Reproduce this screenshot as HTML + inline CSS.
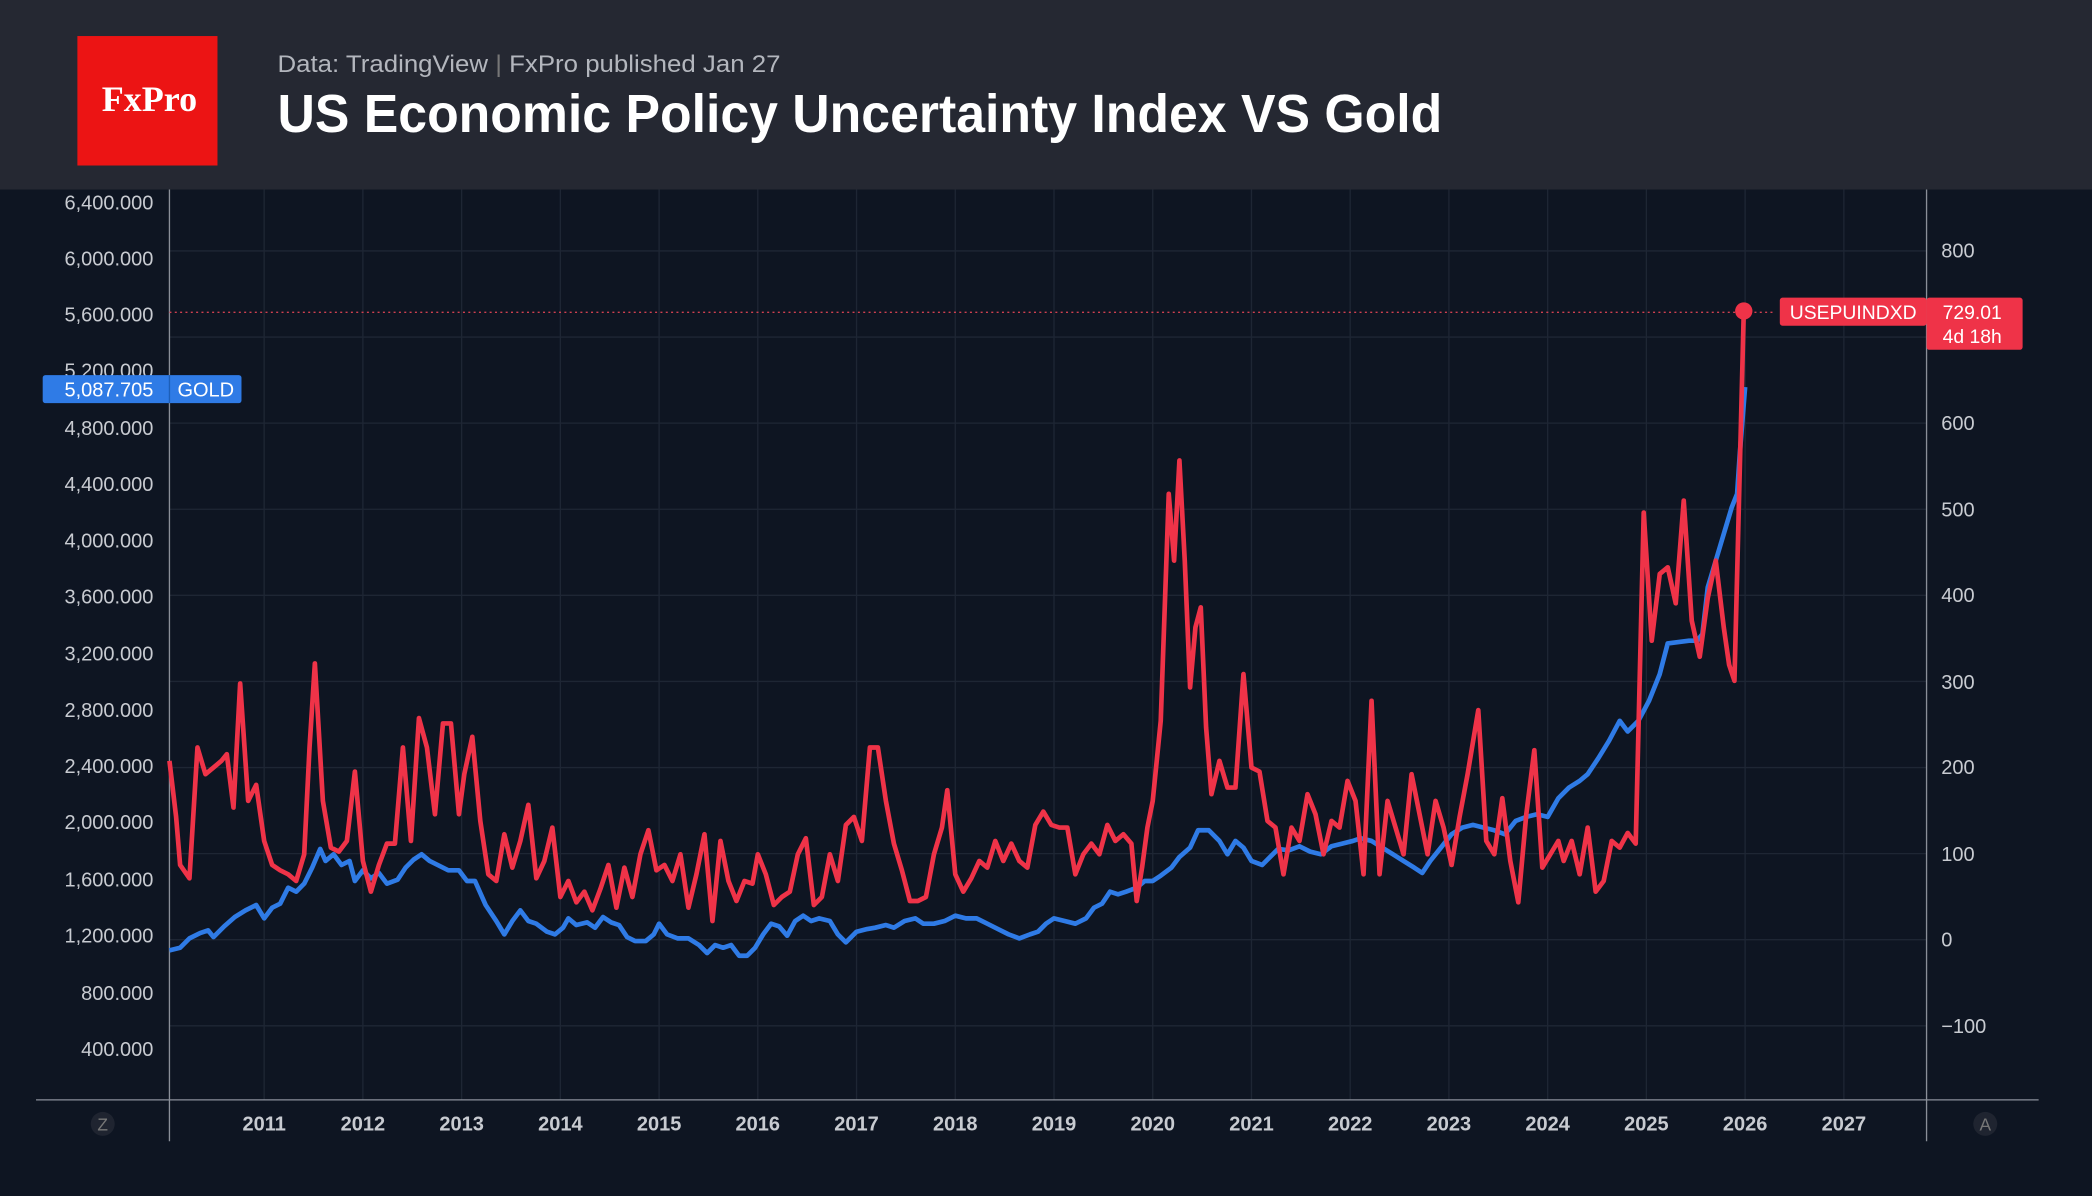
<!DOCTYPE html>
<html><head><meta charset="utf-8"><style>
html,body{margin:0;padding:0;background:#0e1522;}
svg{display:block}
text{font-family:"Liberation Sans",sans-serif}
</style></head><body>
<svg width="2092" height="1196" viewBox="0 0 1568 896" preserveAspectRatio="none" xmlns="http://www.w3.org/2000/svg">
<rect width="1568" height="896" fill="#0e1522"/>
<rect width="1568" height="142" fill="#252832"/>
<rect x="58" y="27" width="105" height="97" fill="#ec1414"/>
<text x="112" y="83" text-anchor="middle" style="font-family:'Liberation Serif',serif" font-weight="bold" font-size="27" fill="#fff">FxPro</text>
<text x="208" y="54" font-size="18" fill="#b3b6bd" textLength="377" lengthAdjust="spacingAndGlyphs">Data: TradingView <tspan fill="#777">|</tspan> FxPro published Jan 27</text>
<text x="208" y="99" font-size="40" font-weight="bold" fill="#fff" textLength="873" lengthAdjust="spacingAndGlyphs">US Economic Policy Uncertainty Index VS Gold</text>
<g stroke="#1e2634" stroke-width="1">
<line x1="127" y1="188" x2="1444" y2="188"/><line x1="127" y1="252.5" x2="1444" y2="252.5"/><line x1="127" y1="317" x2="1444" y2="317"/><line x1="127" y1="381.5" x2="1444" y2="381.5"/><line x1="127" y1="446" x2="1444" y2="446"/><line x1="127" y1="510.5" x2="1444" y2="510.5"/><line x1="127" y1="575" x2="1444" y2="575"/><line x1="127" y1="639.5" x2="1444" y2="639.5"/><line x1="127" y1="704" x2="1444" y2="704"/><line x1="127" y1="768.5" x2="1444" y2="768.5"/>
<line x1="198" y1="142" x2="198" y2="824"/><line x1="272" y1="142" x2="272" y2="824"/><line x1="346" y1="142" x2="346" y2="824"/><line x1="420" y1="142" x2="420" y2="824"/><line x1="494" y1="142" x2="494" y2="824"/><line x1="568" y1="142" x2="568" y2="824"/><line x1="642" y1="142" x2="642" y2="824"/><line x1="716" y1="142" x2="716" y2="824"/><line x1="790" y1="142" x2="790" y2="824"/><line x1="864" y1="142" x2="864" y2="824"/><line x1="938" y1="142" x2="938" y2="824"/><line x1="1012" y1="142" x2="1012" y2="824"/><line x1="1086" y1="142" x2="1086" y2="824"/><line x1="1160" y1="142" x2="1160" y2="824"/><line x1="1234" y1="142" x2="1234" y2="824"/><line x1="1308" y1="142" x2="1308" y2="824"/><line x1="1382" y1="142" x2="1382" y2="824"/>
</g>
<g stroke="#8a8f99" stroke-width="1">
<line x1="127" y1="142" x2="127" y2="855"/><line x1="1444" y1="142" x2="1444" y2="855"/><line x1="27" y1="824" x2="1528" y2="824"/>
</g>
<line x1="127" y1="234" x2="1330" y2="234" stroke="#d04050" stroke-width="1" stroke-dasharray="1.5,2.5"/>
<g font-size="15" fill="#c8cbd1" text-anchor="end">
<text x="115" y="157">6,400.000</text><text x="115" y="199">6,000.000</text><text x="115" y="241">5,600.000</text><text x="115" y="283">5,200.000</text><text x="115" y="326">4,800.000</text><text x="115" y="368">4,400.000</text><text x="115" y="410">4,000.000</text><text x="115" y="452">3,600.000</text><text x="115" y="495">3,200.000</text><text x="115" y="537">2,800.000</text><text x="115" y="579">2,400.000</text><text x="115" y="621">2,000.000</text><text x="115" y="664">1,600.000</text><text x="115" y="706">1,200.000</text><text x="115" y="749">800.000</text><text x="115" y="791">400.000</text>
</g>
<g font-size="15" fill="#c8cbd1">
<text x="1455" y="193">800</text><text x="1455" y="322">600</text><text x="1455" y="387">500</text><text x="1455" y="451">400</text><text x="1455" y="516">300</text><text x="1455" y="580">200</text><text x="1455" y="645">100</text><text x="1455" y="709">0</text><text x="1455" y="774">−100</text>
</g>
<g font-size="15" font-weight="bold" fill="#c8cbd1" text-anchor="middle">
<text x="198" y="847">2011</text><text x="272" y="847">2012</text><text x="346" y="847">2013</text><text x="420" y="847">2014</text><text x="494" y="847">2015</text><text x="568" y="847">2016</text><text x="642" y="847">2017</text><text x="716" y="847">2018</text><text x="790" y="847">2019</text><text x="864" y="847">2020</text><text x="938" y="847">2021</text><text x="1012" y="847">2022</text><text x="1086" y="847">2023</text><text x="1160" y="847">2024</text><text x="1234" y="847">2025</text><text x="1308" y="847">2026</text><text x="1382" y="847">2027</text>
</g>
<circle cx="77" cy="842" r="9" fill="#1f2430"/><text x="77" y="847" font-size="13" fill="#777" text-anchor="middle">Z</text>
<circle cx="1488" cy="842" r="9" fill="#1f2430"/><text x="1488" y="847" font-size="13" fill="#777" text-anchor="middle">A</text>
<polyline fill="none" stroke="#2f7be6" stroke-width="3.5" stroke-linejoin="round" points="127,712 135,710 142,703 150,699 156,697 160,702 168,694 176,687 184,682 192,678 198,688 204,680 210,677 216,665 222,668 228,662 234,650 240,636 244,645 250,640 256,648 262,645 266,660 272,652 278,658 284,654 290,662 298,659 304,650 310,644 316,640 322,645 328,648 336,652 344,652 350,660 356,660 364,678 372,690 378,700 384,690 390,682 396,690 402,692 410,698 416,700 422,695 426,688 432,693 440,691 446,695 452,687 458,691 464,693 470,702 476,705 484,705 490,700 494,692 500,700 508,703 516,703 524,708 530,714 536,708 542,710 548,708 554,716 560,716 566,710 572,700 578,692 584,694 590,701 596,690 602,686 608,690 614,688 622,690 628,700 634,706 642,698 650,696 656,695 664,693 670,695 678,690 686,688 692,692 700,692 708,690 716,686 724,688 732,688 740,692 748,696 756,700 764,703 772,700 778,698 784,692 790,688 798,690 806,692 814,688 820,680 826,677 832,668 838,670 844,668 852,665 858,660 864,660 870,656 878,650 884,642 892,635 898,622 906,622 914,630 920,640 926,630 932,635 938,645 946,648 952,642 958,636 966,637 974,634 982,638 990,640 998,634 1006,632 1014,630 1020,628 1028,630 1036,635 1044,640 1052,645 1060,650 1066,654 1072,645 1080,635 1088,625 1096,620 1104,618 1112,620 1120,622 1128,625 1136,615 1144,612 1152,610 1160,612 1168,598 1176,590 1184,585 1190,580 1198,568 1206,555 1214,540 1220,548 1228,540 1236,525 1244,505 1250,482 1258,481 1266,480 1272,480 1276,475 1280,440 1286,420 1292,400 1298,380 1302,370 1304,340 1308,290"/>
<polyline fill="none" stroke="#ef3348" stroke-width="3.5" stroke-linejoin="round" points="127,570 132,612 135,648 142,658 148,560 154,580 160,575 166,570 170,565 175,605 180,512 186,600 192,588 198,630 204,648 210,652 216,655 222,660 228,640 232,560 236,497 242,600 248,635 254,638 260,630 266,578 272,645 278,668 284,648 290,632 296,632 302,560 308,630 314,538 320,560 326,610 332,542 338,542 344,610 348,580 354,552 360,615 366,655 372,660 378,625 384,650 390,630 396,603 402,658 408,645 414,620 420,672 426,660 432,676 438,668 444,682 450,666 456,648 462,680 468,650 474,672 480,640 486,622 492,652 498,648 504,660 510,640 516,680 522,655 528,625 534,690 540,630 546,660 552,675 558,660 564,662 568,640 574,655 580,678 586,672 592,668 598,640 604,628 610,678 616,672 622,640 628,660 634,618 640,612 646,630 652,560 658,560 664,600 670,632 676,652 682,675 688,675 694,672 700,640 706,620 710,592 716,655 722,668 728,658 734,645 740,650 746,630 752,645 758,632 764,645 770,650 776,618 782,608 788,618 794,620 800,620 806,655 812,640 818,632 824,640 830,618 836,630 842,625 848,632 852,675 856,650 860,620 864,600 870,540 876,370 880,420 884,345 888,420 892,515 896,470 900,455 904,545 908,595 914,570 920,590 926,590 932,505 938,575 944,578 950,615 956,620 962,655 968,620 974,630 980,595 986,610 992,640 998,615 1004,620 1010,585 1016,600 1022,655 1028,525 1034,655 1040,600 1046,620 1052,640 1058,580 1064,610 1070,640 1076,600 1082,620 1088,648 1094,612 1100,580 1108,532 1114,630 1120,640 1126,598 1132,645 1138,676 1144,610 1150,562 1156,650 1162,640 1168,630 1172,645 1178,630 1184,655 1190,620 1196,668 1202,660 1208,630 1214,635 1220,624 1226,632 1232,384 1238,480 1244,430 1250,425 1256,452 1262,375 1268,465 1274,492 1280,448 1286,420 1292,470 1296,498 1300,510 1307,233"/>
<circle cx="1307" cy="233" r="6.5" fill="#ef3348"/>
<rect x="1334" y="223" width="110" height="21" rx="2" fill="#ef3348"/>
<text x="1389" y="239" font-size="14.5" fill="#fff" text-anchor="middle">USEPUINDXD</text>
<rect x="1444" y="223" width="72" height="39" rx="2" fill="#ef3348"/>
<text x="1456" y="239" font-size="14.5" fill="#fff">729.01</text>
<text x="1456" y="257" font-size="14.5" fill="#fff">4d 18h</text>
<rect x="32" y="281" width="149" height="21" rx="2" fill="#2f7be6"/>
<line x1="127" y1="281" x2="127" y2="302" stroke="#1d5fb8"/>
<text x="115" y="297" font-size="15" fill="#fff" text-anchor="end">5,087.705</text>
<text x="133" y="297" font-size="15" fill="#fff">GOLD</text>
</svg>
</body></html>
